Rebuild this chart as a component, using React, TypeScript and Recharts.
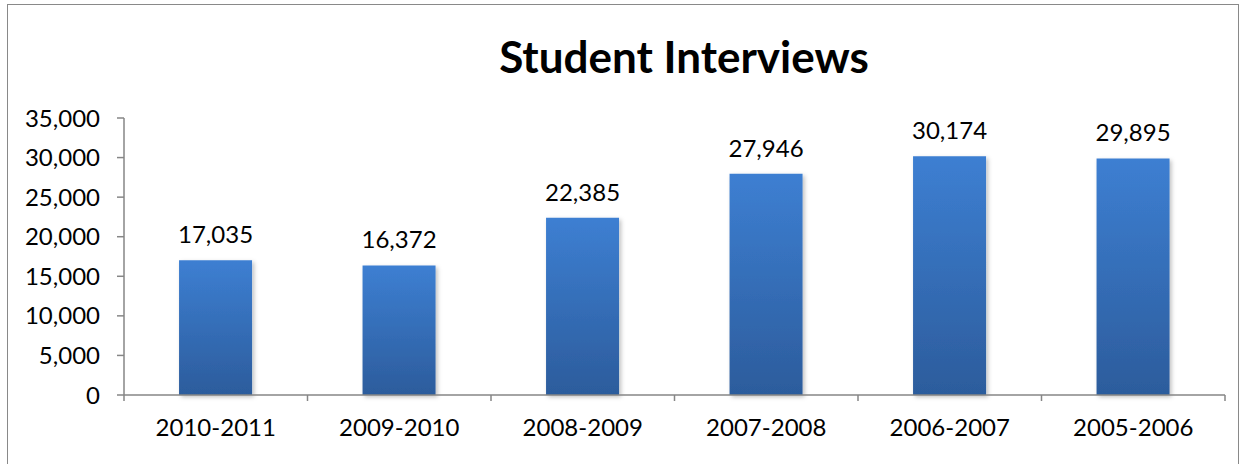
import React from 'react';
import { BarChart, Bar, XAxis, YAxis, LabelList } from 'recharts';

// values
const seasons = ['2010-2011', '2009-2010', '2008-2009', '2007-2008', '2006-2007', '2005-2006'];
const interviews = [17035, 16372, 22385, 27946, 30174, 29895];
const yTicks = [0, 5000, 10000, 15000, 20000, 25000, 30000, 35000];

const data = seasons.map((season, i) => ({ season, interviews: interviews[i] }));

const FONT = 'Lato, "Open Sans", sans-serif';
const fmt = (v: number) => v.toLocaleString('en-US');

const CategoryTick = (props: any) => {
  const { x, y, payload, index, visibleTicksCount } = props;
  const half = payload && payload.offset ? payload.offset : 1101 / 12;
  const last = index === visibleTicksCount - 1;
  return (
    <g>
      <line x1={x - half} y1={y - 8} x2={x - half} y2={y - 2} stroke="#868686" strokeWidth={1.5} />
      {last && <line x1={x + half} y1={y - 8} x2={x + half} y2={y - 2} stroke="#868686" strokeWidth={1.5} />}
      <text x={x} y={y + 33} textAnchor="middle" fontFamily={FONT} fontSize={24} fill="#000">
        {payload.value}
      </text>
    </g>
  );
};

export default function App() {
  return (
    <div style={{ position: 'absolute', left: 0, top: 0, width: 1245, height: 464, background: '#fff', overflow: 'hidden' }}>
      <div
        style={{
          position: 'absolute',
          left: 7,
          top: 4,
          width: 1232,
          height: 470,
          border: '1.5px solid #898989',
          boxSizing: 'border-box',
        }}
      />
      <div
        style={{
          position: 'absolute',
          left: 0,
          width: 1245,
          top: 31,
          textAlign: 'center',
          paddingLeft: 123,
          boxSizing: 'border-box',
          fontFamily: FONT,
          fontWeight: 700,
          fontSize: 44,
          lineHeight: '50px',
          color: '#000',
        }}
      >
        Student Interviews
      </div>
      <div style={{ position: 'absolute', left: 0, top: 0 }}>
        <BarChart
          width={1245}
          height={464}
          data={data}
          margin={{ top: 118, right: 20, bottom: 29, left: 64 }}
          barCategoryGap="30%"
        >
          <defs>
            <linearGradient id="barFill" x1="0" y1="0" x2="0" y2="1">
              <stop offset="0%" stopColor="#3d7fd2" />
              <stop offset="100%" stopColor="#2c5c9c" />
            </linearGradient>
            <filter id="barShadow" x="-10%" y="-5%" width="125%" height="115%">
              <feDropShadow dx="2" dy="2" stdDeviation="2" floodColor="#000" floodOpacity="0.25" />
            </filter>
          </defs>
          <XAxis
            dataKey="season"
            height={40}
            stroke="#868686"
            strokeWidth={1.5}
            tickLine={false}
            tick={<CategoryTick />}
            interval={0}
          />
          <YAxis
            width={60}
            domain={[0, 35000]}
            ticks={yTicks}
            interval={0}
            tickFormatter={fmt}
            stroke="#868686"
            strokeWidth={1.5}
            tickSize={7}
            tickMargin={17}
            tick={{ fill: '#000', fontFamily: FONT, fontSize: 24 }}
          />
          <Bar dataKey="interviews" fill="url(#barFill)" filter="url(#barShadow)" isAnimationActive={false}>
            <LabelList
              dataKey="interviews"
              position="top"
              offset={17}
              formatter={(v: any) => fmt(Number(v))}
              style={{ fill: '#000', fontFamily: FONT, fontSize: 24 }}
            />
          </Bar>
        </BarChart>
      </div>
    </div>
  );
}
